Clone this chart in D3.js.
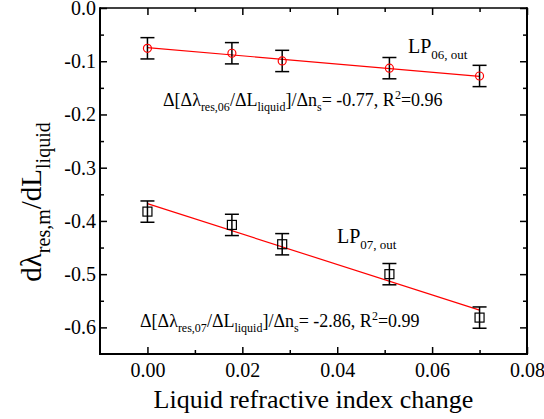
<!DOCTYPE html>
<html>
<head>
<meta charset="utf-8">
<script src="https://cdn.jsdelivr.net/npm/d3@7"></script>
<style>
  body { margin: 0; background: #fff; }
  svg { display: block; }
  text { font-family: "Liberation Serif", "Times New Roman", serif; fill: #000; }
</style>
</head>
<body>
<svg id="chart" width="544" height="419"></svg>
<script>
// Refractive index change of the liquid (x) and the two slope series
const indexChange = [0, 0.0178, 0.0284, 0.051, 0.070];
const lp06 = [-0.0757, -0.085, -0.0995, -0.113, -0.1277];
const lp07 = [-0.3825, -0.4075, -0.4438, -0.500, -0.5816];
const lp06Err = [0.02, 0.02, 0.02, 0.02, 0.02];
const lp07Err = [0.02, 0.02, 0.02, 0.02, 0.02];
// Fitted sensitivities (slopes of the linear fits)
const slope06 = -0.77;
const slope07 = -2.86;
const xTicks = [0, 0.02, 0.04, 0.06, 0.08];
const xMinor = [0.01, 0.03, 0.05, 0.07];
const yTicks = [0, -0.1, -0.2, -0.3, -0.4, -0.5, -0.6];
const yMinor = [-0.05, -0.15, -0.25, -0.35, -0.45, -0.55];

const svg = d3.select("#chart");
const L = 100, R = 527, T = 8, B = 354;
const serif = '"Liberation Serif", "Times New Roman", serif';

const x = d3.scaleLinear().domain([-0.01, 0.08]).range([L, R]);
const y = d3.scaleLinear().domain([-0.65, 0]).range([B, T]);

const fmt1 = d3.format(".1f");
const fmt2 = d3.format(".2f");
const minus = s => s.replace("\u2212", "-");

// Axes on all four sides, ticks pointing inward
function styleAxis(g) {
  g.attr("font-family", serif);
  g.select(".domain").remove();
  g.selectAll(".tick line").attr("stroke", "#000").attr("stroke-width", 1.5);
}
function addAxis(axis, tx, ty) {
  return svg.append("g").attr("transform", `translate(${tx},${ty})`).call(axis).call(styleAxis);
}

const gLeft = addAxis(d3.axisLeft(y).tickValues(yTicks).tickSize(-7).tickPadding(4)
  .tickFormat(d => minus(fmt1(d))), L, 0);
gLeft.selectAll("text").attr("font-size", 20);
addAxis(d3.axisLeft(y).tickValues(yMinor).tickSize(-4).tickFormat(""), L, 0);

addAxis(d3.axisRight(y).tickValues(yTicks).tickSize(-7).tickFormat(""), R, 0);
addAxis(d3.axisRight(y).tickValues(yMinor).tickSize(-4).tickFormat(""), R, 0);

const gBottom = addAxis(d3.axisBottom(x).tickValues(xTicks).tickSize(-7).tickPadding(9)
  .tickFormat(d => fmt2(d)), 0, B);
gBottom.selectAll("text").attr("font-size", 20);
addAxis(d3.axisBottom(x).tickValues(xMinor).tickSize(-4).tickFormat(""), 0, B);

addAxis(d3.axisTop(x).tickValues(xTicks).tickSize(-7).tickFormat(""), 0, T);
addAxis(d3.axisTop(x).tickValues(xMinor).tickSize(-4).tickFormat(""), 0, T);

// Frame
svg.append("line").attr("x1", L).attr("x2", R).attr("y1", T).attr("y2", T).attr("stroke", "#000").attr("stroke-width", 1.5);
svg.append("line").attr("x1", R).attr("x2", R).attr("y1", T - 0.75).attr("y2", B).attr("stroke", "#000").attr("stroke-width", 2);
svg.append("line").attr("x1", L).attr("x2", L).attr("y1", T - 0.75).attr("y2", B + 1).attr("stroke", "#000").attr("stroke-width", 2);
svg.append("line").attr("x1", L - 1).attr("x2", R + 1).attr("y1", B).attr("y2", B).attr("stroke", "#000").attr("stroke-width", 2);

// Linear fits, slope from the stated sensitivity, intercept through the data centroid
function fitLine(ys, slope) {
  const mx = d3.mean(indexChange), my = d3.mean(ys);
  const b = my - slope * mx;
  const x0 = d3.min(indexChange), x1 = d3.max(indexChange);
  return [[x0, b + slope * x0], [x1, b + slope * x1]];
}
const line = d3.line().x(d => x(d[0])).y(d => y(d[1]));
[[lp06, slope06], [lp07, slope07]].forEach(([ys, s]) => {
  svg.append("path").attr("d", line(fitLine(ys, s)))
    .attr("fill", "none").attr("stroke", "#ff0000").attr("stroke-width", 1.2);
});

// Error bars
function errorBars(ys, errs) {
  const g = svg.append("g").attr("stroke", "#000").attr("stroke-width", 1.5);
  ys.forEach((v, i) => {
    const cx = x(indexChange[i]);
    const y0 = y(v - errs[i]), y1 = y(v + errs[i]);
    g.append("line").attr("x1", cx).attr("x2", cx).attr("y1", y0).attr("y2", y1);
    g.append("line").attr("x1", cx - 7).attr("x2", cx + 7).attr("y1", y0).attr("y2", y0);
    g.append("line").attr("x1", cx - 7).attr("x2", cx + 7).attr("y1", y1).attr("y2", y1);
  });
}
errorBars(lp06, lp06Err);
errorBars(lp07, lp07Err);

// Markers
svg.append("g").selectAll("circle").data(lp06).join("circle")
  .attr("cx", (d, i) => x(indexChange[i])).attr("cy", d => y(d)).attr("r", 4)
  .attr("fill", "none").attr("stroke", "#ff0000").attr("stroke-width", 1.2);
svg.append("g").selectAll("rect").data(lp07).join("rect")
  .attr("x", (d, i) => x(indexChange[i]) - 4.5).attr("y", d => y(d) - 4.5)
  .attr("width", 9).attr("height", 9)
  .attr("fill", "none").attr("stroke", "#000").attr("stroke-width", 1.2);

// Rich text helper: parts are [text, kind] where kind is "", "sub" or "sup"
function richText(parent, px, py, parts, size, subSize, anchor) {
  const t = parent.append("text").attr("x", px).attr("y", py).attr("font-size", size)
    .attr("text-anchor", anchor || "start");
  let shift = 0;
  parts.forEach(([s, kind]) => {
    const target = kind === "sub" ? subSize * 0.45 : kind === "sup" ? -size * 0.4 : 0;
    t.append("tspan").attr("dy", target - shift).attr("font-size", kind ? subSize : size).text(s);
    shift = target;
  });
  return t;
}

richText(svg, 408, 53, [["LP", ""], ["06, out", "sub"]], 20, 13);
richText(svg, 163, 106, [["\u0394[\u0394\u03bb", ""], ["res,06", "sub"], ["/\u0394L", ""], ["liquid", "sub"],
  ["]/\u0394n", ""], ["s", "sub"], ["= -0.77, R", ""], ["2", "sup"], ["=0.96", ""]], 18, 12);
richText(svg, 337, 243, [["LP", ""], ["07, out", "sub"]], 20, 13);
richText(svg, 140, 327, [["\u0394[\u0394\u03bb", ""], ["res,07", "sub"], ["/\u0394L", ""], ["liquid", "sub"],
  ["]/\u0394n", ""], ["s", "sub"], ["= -2.86, R", ""], ["2", "sup"], ["=0.99", ""]], 18, 12);

// Axis titles
svg.append("text").attr("x", (L + R) / 2).attr("y", 408).attr("text-anchor", "middle")
  .attr("font-size", 26).text("Liquid refractive index change");

const yt = svg.append("g").attr("transform", "translate(41,202) rotate(-90)");
richText(yt, 0, 0, [["d\u03bb", ""], ["res,m", "sub"], ["/dL", ""], ["liquid", "sub"]], 29, 20, "middle");
</script>
</body>
</html>
